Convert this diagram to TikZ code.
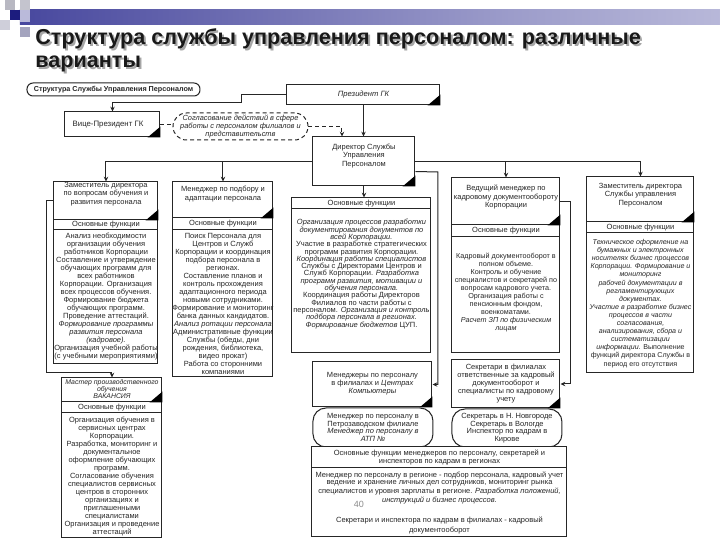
\documentclass[tikz,border=0pt]{standalone}
\usepackage{fontspec}
\setmainfont{Liberation Sans}
\usetikzlibrary{fit,arrows.meta,calc}
\definecolor{navyA}{HTML}{1C1C7E}
\definecolor{navyB}{HTML}{3C3C98}
\definecolor{navyC}{HTML}{9C9CCA}
\definecolor{navyD}{HTML}{E6E6F2}
\pgfdeclarehorizontalshading{barshade}{100bp}{color(0bp)=(navyA); color(20bp)=(navyB); color(60bp)=(navyC); color(100bp)=(navyD)}
\newcommand\ctri[1]{\fill[black] (#1.south east) -- ++(-13,0) -- ++(13,-11) -- cycle;}
\tikzset{
  bx/.style={draw=black!85, line width=0.5pt, fill=white, inner sep=0pt},
  rbx/.style={bx, rounded corners=6.5pt},
  tx/.style={font=\fontsize{3.75}{#1}\selectfont, align=center, inner sep=0pt, text=black!85},
  tx/.default=4,
  arr/.style={line width=0.5pt, draw=black!85, -{Stealth[length=2.4pt,width=2.2pt]}},
  ln/.style={line width=0.5pt, draw=black!85},
  dsh/.style={dash pattern=on 2pt off 1.5pt},
  ttl/.style={anchor=base west, inner sep=0pt, font=\fontsize{10.8}{12}\selectfont\bfseries}
}
\begin{document}
\begin{tikzpicture}[x=0.5pt,y=-0.5pt]
\useasboundingbox[fill=white] (0,0) rectangle (720,540);
% header decoration
\shade[shading=barshade] (20,10) rectangle (720,25);
\fill[black!20!navyD] (5,0) rectangle (15,10);
\fill[navyD!85!black] (20,0) rectangle (30,10);
\fill[navyA] (10,10) rectangle (20,20);
\fill[navyC!70!white] (20,10) rectangle (30,22);
\fill[navyD!90!black] (0,20) rectangle (10,30);
\fill[navyC!80!black!70] (20,27) rectangle (30,37);
% title
\node[ttl, text=black!35] at (37,47) {Структура службы управления персоналом: различные};
\node[ttl, text=black!90] at (35,45) {Структура службы управления персоналом: различные};
\node[ttl, text=black!35] at (37,70) {варианты};
\node[ttl, text=black!90] at (35,68) {варианты};

% top label
\node[bx, rounded corners=3pt, fit={(27,83) (200,96)}] (lbl) {};
\node[tx, font=\fontsize{3.6}{4}\selectfont\bfseries] at (lbl.center) {Структура Службы Управления Персоналом};

% president
\node[bx, fit={(287,85) (440,105)}] (pres) {};
\node[tx, font=\fontsize{3.8}{4}\selectfont\itshape] at (pres.center) {Президент ГК};
\ctri{pres}

% VP
\node[bx, fit={(65,112) (160,137)}] (vp) {};
\node[tx, font=\fontsize{3.9}{4}\selectfont] at (108,124.5) {Вице-Президент ГК};
\ctri{vp}

% dashed stadium
\node[bx, dsh, rounded corners=6.7pt, fit={(173,113) (308,140)}] (stad) {};
\node[tx=4, font=\fontsize{3.7}{4}\selectfont\itshape] at (stad.center) {Согласование действий в сфере\\работы с персоналом филиалов и\\представительств};

% columns
\node[bx, fit={(54,182) (158,220)}] (c1n) {};
\node[bx, fit={(54,220) (158,230)}] (c1h) {};
\node[bx, fit={(54,230) (158,364)}] (c1b) {};
\node[bx, fit={(173,182) (273,218)}] (c2n) {};
\node[bx, fit={(173,218) (273,230)}] (c2h) {};
\node[bx, fit={(173,230) (273,377)}] (c2b) {};
\node[bx, fit={(292,198) (431,209)}] (c3h) {};
\node[bx, fit={(292,209) (431,353)}] (c3b) {};
\node[bx, fit={(452,178) (560,225)}] (c4n) {};
\node[bx, fit={(452,225) (560,237)}] (c4h) {};
\node[bx, fit={(452,237) (560,353)}] (c4b) {};
\node[bx, fit={(587,177) (694,222)}] (c5n) {};
\node[bx, fit={(587,222) (694,233)}] (c5h) {};
\node[bx, fit={(587,233) (694,373)}] (c5b) {};

% director
\node[bx, draw=none, fill=none, fit={(313,137) (415,186)}] (dir) {};
\draw[arr] (dir.west) -| (c1n.north);
\draw[arr] (dir.west) -| (c2n.north);
\draw[arr] (dir.east) -| (c4n.north);
\draw[arr] (dir.east) -| (c5n.north);
\node[bx, fit={(313,137) (415,186)}] {};
\node[tx=4.2] at (364,156) {Директор Службы\\Управления\\Персоналом};
\ctri{dir}

% president -> VP, president -> director, dashed
\draw[arr] (pres.west) -| (242,103) -| (vp.north);
\draw[ln, dsh] (vp.east) -- (vp.east -| stad.west);
\draw[arr, dsh] (stad.east) -| ($(dir.north)+(-22,0)$);
\draw[arr] (pres.south) -- (pres.south |- dir.north);
\draw[arr] (dir.south) -- (dir.south |- c3h.north);

% column texts
\node[tx=4.2] at (106,194) {Заместитель директора\\по вопросам обучения и\\развития персонала};
\ctri{c1n}
\node[tx] at (c1h.center) {Основные функции};
\node[tx=4, anchor=north] at (106,233) {Анализ необходимости\\организации обучения\\работников Корпорации\\Составление и утверждение\\обучающих программ для\\всех работников\\Корпорации. Организация\\всех процессов обучения.\\Формирование бюджета\\обучающих программ.\\Проведение аттестаций.\\\textit{Формирование программы}\\\textit{развития персонала}\\\textit{(кадровое).}\\Организация учебной работы\\(с учебными мероприятиями)};

\node[tx=4.2] at (223,194) {Менеджер по подбору и\\адаптации персонала};
\ctri{c2n}
\node[tx] at (c2h.center) {Основные функции};
\node[tx=4, anchor=north] at (223,233) {Поиск Персонала для\\Центров и Служб\\Корпорации и координация\\подбора персонала в\\регионах.\\Составление планов и\\контроль прохождения\\адаптационного периода\\новыми сотрудниками.\\Формирование и мониторинг\\банка данных кандидатов.\\\textit{Анализ ротации персонала}\\Административные функции\\Службы (обеды, дни\\рождения, библиотека,\\видео прокат)\\Работа со сторонними\\компаниями};

\node[tx] at (c3h.center) {Основные функции};
\node[tx=3.65, anchor=north] at (361.5,219) {\textit{Организация процессов разработки}\\\textit{документирования документов по}\\\textit{всей Корпорации.}\\Участие в разработке стратегических\\программ развития Корпорации.\\\textit{Координация работы специалистов}\\Службы с Директорами Центров и\\Служб Корпорации. \textit{Разработка}\\\textit{программ развития, мотивации и}\\\textit{обучения персонала.}\\Координация работы Директоров\\Филиалов по части работы с\\персоналом. \textit{Организация и контроль}\\\textit{подбора персонала в регионах.}\\\textit{Формирование бюджетов} ЦУП.};

\node[tx=4.2] at (506,197) {Ведущий менеджер по\\кадровому документообороту\\Корпорации};
\ctri{c4n}
\node[tx] at (c4h.center) {Основные функции};
\node[tx=4.05, font=\fontsize{3.6}{4.05}\selectfont] at (506,292.5) {Кадровый документооборот в\\полном объеме.\\Контроль и обучение\\специалистов и секретарей по\\вопросам кадрового учета.\\Организация работы с\\пенсионным фондом,\\военкоматами.\\\textit{Расчет ЗП по физическим}\\\textit{лицам}};

\node[tx=4.2] at (640.5,195) {Заместитель директора\\Службы управления\\Персоналом};
\ctri{c5n}
\node[tx] at (c5h.center) {Основные функции};
\node[tx=4.05, font=\fontsize{3.55}{4.05}\selectfont, anchor=north] at (640.5,239) {\textit{Техническое оформление на}\\\textit{бумажных и электронных}\\\textit{носителях бизнес процессов}\\\textit{Корпорации. Формирование и}\\\textit{мониторинг}\\\textit{рабочей документации в}\\\textit{регламентирующих}\\\textit{документах.}\\\textit{Участие в разработке бизнес}\\\textit{процессов в части}\\\textit{согласования,}\\\textit{анализирования, сбора и}\\\textit{систематизации}\\\textit{информации.} Выполнение\\функций директора Службы в\\период его отсутствия};

% master
\node[bx, fit={(62,378) (162,402)}] (mn) {};
\node[bx, fit={(62,402) (162,413)}] (mh) {};
\node[bx, fit={(62,413) (162,538)}] (mb) {};
\node[tx=3.4, font=\fontsize{3.45}{3.4}\selectfont\itshape] at (112,389) {Мастер производственного\\обучения\\ВАКАНСИЯ};
\ctri{mn}
\node[tx] at (mh.center) {Основные функции};
\node[tx=4, anchor=north] at (112,417) {Организация обучения в\\сервисных центрах\\Корпорации.\\Разработка, мониторинг и\\документальное\\оформление обучающих\\программ.\\Согласование обучения\\специалистов сервисных\\центров в сторонних\\организациях и\\приглашенными\\специалистами\\Организация и проведение\\аттестаций};
\draw[arr] (c1n.west) -| (47,373) -| (mn.north);

% managers / secretaries
\node[bx, fit={(313,362) (432,407)}] (mgr) {};
\node[tx=4] at (372.5,384) {Менеджеры по персоналу\\в филиалах и \textit{Центрах}\\\textit{Компьютеры}};
\ctri{mgr}
\node[bx, fit={(452,360) (560,408)}] (sec) {};
\node[tx=4] at (506,384) {Секретари в филиалах\\ответственные за кадровый\\документооборот и\\специалисты по кадровому\\учету};
\ctri{sec}
\draw[arr] ($(dir.north east)+(0,35)$) -- (438,172) |- (mgr.east);
\draw[arr] (c4n.east) -- ++(10,0) |- (sec.east);

\node[rbx, fit={(313,408) (433,447)}] (mgr2) {};
\node[tx=3.8] at (mgr2.center) {Менеджер по персоналу в\\Петрозаводском филиале\\\textit{Менеджер по персоналу в}\\\textit{АТП №}};
\node[rbx, fit={(452,409) (562,447)}] (sec2) {};
\node[tx=3.8] at (sec2.center) {Секретарь в Н. Новгороде\\Секретарь в Вологде\\Инспектор по кадрам в\\Кирове};

% bottom box
\node[bx, fit={(312,447) (567,468)}] (bh) {};
\node[tx=3.9] at (bh.center) {Основные функции менеджеров по персоналу, секретарей и\\инспекторов по кадрам в регионах};
\node[bx, fit={(312,468) (567,537)}] (bb) {};
\node[tx=3.35, anchor=north] at (439.5,472) {Менеджер по персоналу в регионе - подбор персонала, кадровый учет\\ведение и хранение личных дел сотрудников, мониторинг рынка\\специалистов и уровня зарплаты в регионе. \textit{Разработка положений,}\\\textit{инструкций и бизнес процессов.}\\[5.5pt]Секретари и инспектора по кадрам в филиалах - кадровый\\документооборот};
\node[inner sep=0pt, font=\fontsize{4.5}{5}\selectfont, text=black!45] at (359,504) {40};
\end{tikzpicture}
\end{document}
